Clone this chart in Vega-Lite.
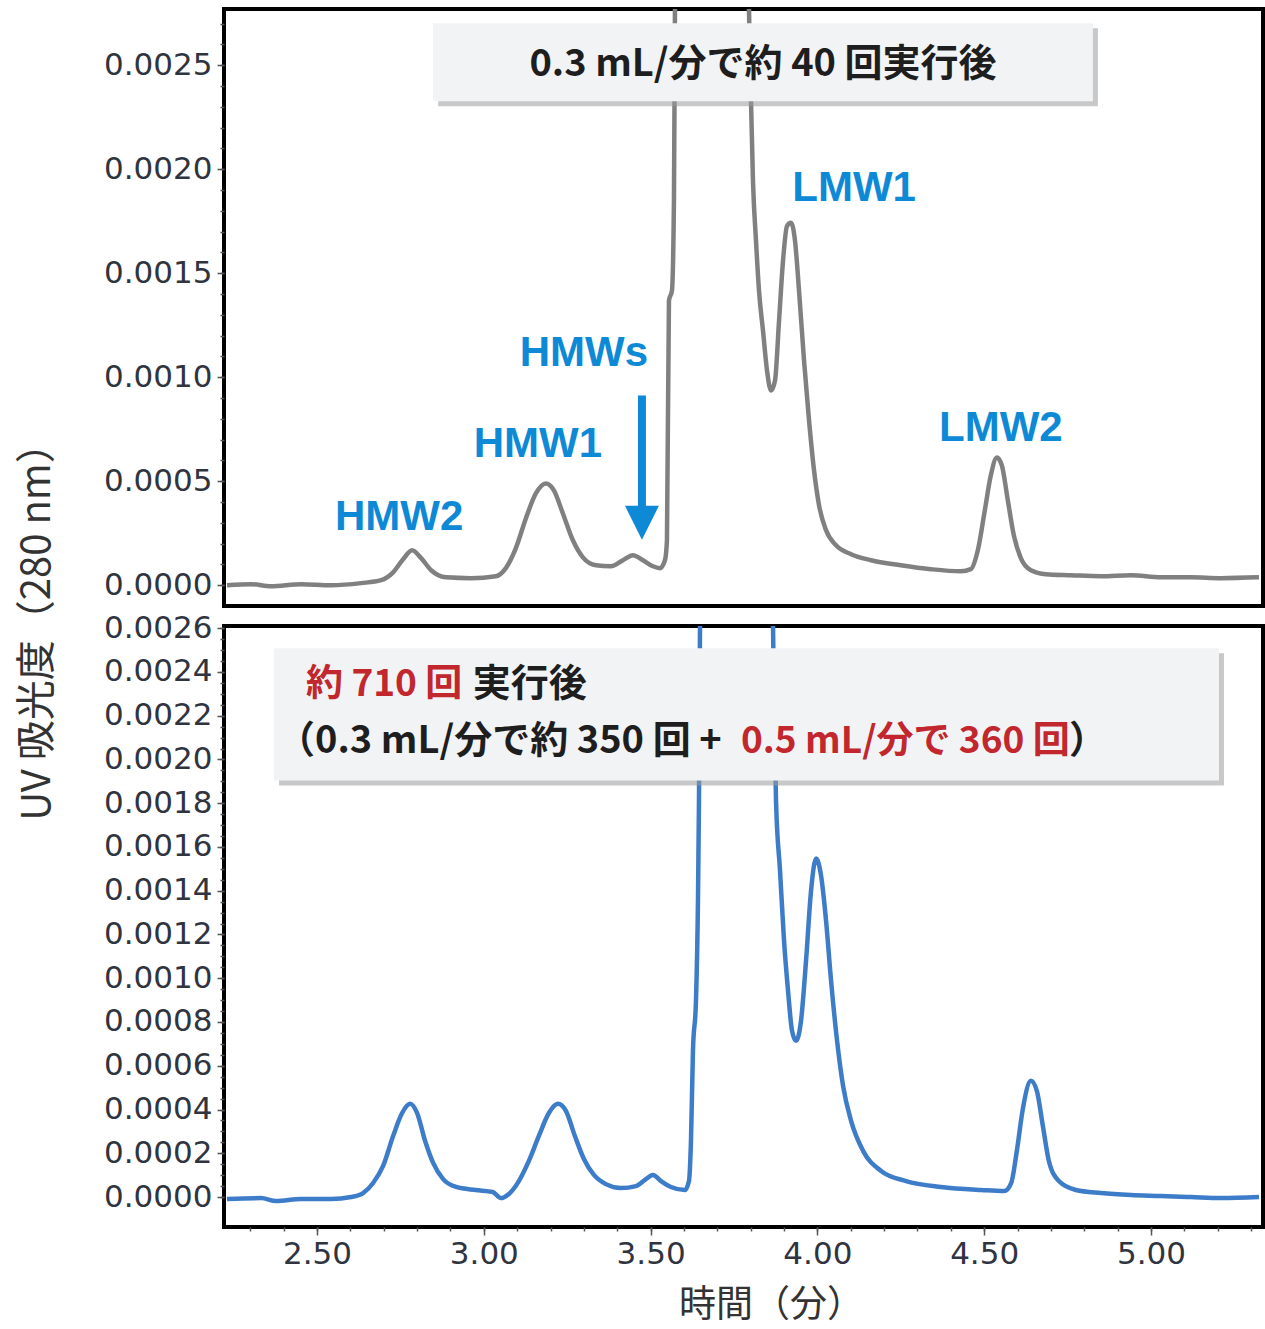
{
  "$schema": "https://vega.github.io/schema/vega-lite/v6.json",
  "padding": {"left": 17, "top": 7, "right": 2, "bottom": 2},
  "background": "#ffffff",
  "bounds": "flush",
  "spacing": 20,
  "title": {"text": "UV 吸光度（280 nm）", "orient": "left", "anchor": "middle", "font": "Noto Sans CJK JP", "fontSize": 40, "fontWeight": "normal", "color": "#333333", "offset": 44, "dx": 44},
  "config": {
    "view": {"stroke": "#000000", "strokeWidth": 4},
    "axis": {"grid": false, "domain": false, "tickColor": "#555555", "tickWidth": 1.5, "labelFont": "DejaVu Sans", "labelFontSize": 31, "labelColor": "#30343f", "labelOverlap": false, "labelFlush": false, "labelBound": false}
  },
  "datasets": {
    "top": [
      {"t": 2.230, "a": 0.0000}, {"t": 2.302, "a": 0.000005}, {"t": 2.362, "a": -0.000005}, {"t": 2.452, "a": 0.000005},
      {"t": 2.542, "a": 0.0}, {"t": 2.632, "a": 0.00001}, {"t": 2.692, "a": 0.000024}, {"t": 2.728, "a": 0.000062},
      {"t": 2.758, "a": 0.000125}, {"t": 2.785, "a": 0.000168}, {"t": 2.812, "a": 0.00013}, {"t": 2.842, "a": 0.000072},
      {"t": 2.887, "a": 0.000038}, {"t": 2.962, "a": 0.000034}, {"t": 3.036, "a": 0.000043}, {"t": 3.066, "a": 0.000082},
      {"t": 3.096, "a": 0.000178}, {"t": 3.126, "a": 0.000321}, {"t": 3.156, "a": 0.000441}, {"t": 3.186, "a": 0.000489},
      {"t": 3.210, "a": 0.000456}, {"t": 3.237, "a": 0.000345}, {"t": 3.267, "a": 0.000216}, {"t": 3.297, "a": 0.000134},
      {"t": 3.336, "a": 0.000096}, {"t": 3.381, "a": 0.000091}, {"t": 3.417, "a": 0.00012}, {"t": 3.447, "a": 0.000144},
      {"t": 3.477, "a": 0.00012}, {"t": 3.507, "a": 0.000091}, {"t": 3.528, "a": 0.000082}, {"t": 3.543, "a": 0.00012},
      {"t": 3.549, "a": 0.000216}, {"t": 3.555, "a": 0.001368}, {"t": 3.564, "a": 0.001416}, {"t": 3.570, "a": 0.00185},
      {"t": 3.573, "a": 0.00277}, {"t": 3.576, "a": 0.0038}, {"t": 3.681, "a": 0.02}, {"t": 3.789, "a": 0.0038},
      {"t": 3.795, "a": 0.00277}, {"t": 3.801, "a": 0.00233}, {"t": 3.807, "a": 0.00194}, {"t": 3.816, "a": 0.001655},
      {"t": 3.825, "a": 0.001415}, {"t": 3.837, "a": 0.001223}, {"t": 3.849, "a": 0.001032}, {"t": 3.861, "a": 0.000936},
      {"t": 3.873, "a": 0.000984}, {"t": 3.885, "a": 0.001271}, {"t": 3.897, "a": 0.00156}, {"t": 3.909, "a": 0.001727},
      {"t": 3.921, "a": 0.001742}, {"t": 3.933, "a": 0.001655}, {"t": 3.945, "a": 0.001415}, {"t": 3.960, "a": 0.00108},
      {"t": 3.975, "a": 0.000792}, {"t": 3.990, "a": 0.000552}, {"t": 4.005, "a": 0.000384}, {"t": 4.026, "a": 0.000264},
      {"t": 4.056, "a": 0.000192}, {"t": 4.101, "a": 0.000149}, {"t": 4.161, "a": 0.00012}, {"t": 4.250, "a": 0.000096},
      {"t": 4.340, "a": 0.000077}, {"t": 4.430, "a": 0.000067}, {"t": 4.460, "a": 0.000077}, {"t": 4.481, "a": 0.000168},
      {"t": 4.502, "a": 0.00036}, {"t": 4.520, "a": 0.000528}, {"t": 4.538, "a": 0.000614}, {"t": 4.553, "a": 0.000576},
      {"t": 4.571, "a": 0.000408}, {"t": 4.589, "a": 0.00024}, {"t": 4.610, "a": 0.00013}, {"t": 4.640, "a": 0.000072},
      {"t": 4.685, "a": 0.000053}, {"t": 4.760, "a": 0.000048}, {"t": 4.850, "a": 0.000043}, {"t": 4.940, "a": 0.000048},
      {"t": 5.030, "a": 0.000038}, {"t": 5.120, "a": 0.000038}, {"t": 5.210, "a": 0.000034}, {"t": 5.324, "a": 0.000038}
    ],
    "bottom": [
      {"t": 2.230, "a": -0.000009}, {"t": 2.332, "a": -0.000005}, {"t": 2.377, "a": -0.000018}, {"t": 2.452, "a": -0.000009},
      {"t": 2.542, "a": -0.000009}, {"t": 2.602, "a": 0.0}, {"t": 2.638, "a": 0.000018}, {"t": 2.668, "a": 0.000064},
      {"t": 2.698, "a": 0.000142}, {"t": 2.728, "a": 0.000279}, {"t": 2.755, "a": 0.000384}, {"t": 2.779, "a": 0.000426},
      {"t": 2.800, "a": 0.000384}, {"t": 2.824, "a": 0.000256}, {"t": 2.848, "a": 0.000156}, {"t": 2.878, "a": 0.000082},
      {"t": 2.917, "a": 0.000046}, {"t": 2.976, "a": 0.000032}, {"t": 3.027, "a": 0.000023}, {"t": 3.051, "a": -0.000005},
      {"t": 3.075, "a": 0.000014}, {"t": 3.105, "a": 0.000073}, {"t": 3.135, "a": 0.000165}, {"t": 3.165, "a": 0.000279},
      {"t": 3.195, "a": 0.000384}, {"t": 3.222, "a": 0.000426}, {"t": 3.246, "a": 0.000394}, {"t": 3.273, "a": 0.000279},
      {"t": 3.300, "a": 0.000174}, {"t": 3.330, "a": 0.000101}, {"t": 3.366, "a": 0.000059}, {"t": 3.411, "a": 0.000041},
      {"t": 3.456, "a": 0.00005}, {"t": 3.486, "a": 0.000082}, {"t": 3.507, "a": 0.000101}, {"t": 3.531, "a": 0.000073},
      {"t": 3.561, "a": 0.000046}, {"t": 3.603, "a": 0.000032}, {"t": 3.615, "a": 0.000073}, {"t": 3.621, "a": 0.000256},
      {"t": 3.627, "a": 0.000668}, {"t": 3.636, "a": 0.000897}, {"t": 3.642, "a": 0.001355}, {"t": 3.645, "a": 0.00181},
      {"t": 3.648, "a": 0.00259}, {"t": 3.651, "a": 0.003186}, {"t": 3.756, "a": 0.02}, {"t": 3.861, "a": 0.003186},
      {"t": 3.867, "a": 0.002613}, {"t": 3.870, "a": 0.00227}, {"t": 3.876, "a": 0.00181}, {"t": 3.888, "a": 0.001492},
      {"t": 3.900, "a": 0.001172}, {"t": 3.912, "a": 0.000943}, {"t": 3.924, "a": 0.00076}, {"t": 3.936, "a": 0.000714},
      {"t": 3.951, "a": 0.000806}, {"t": 3.966, "a": 0.00108}, {"t": 3.981, "a": 0.0014}, {"t": 3.996, "a": 0.001547},
      {"t": 4.011, "a": 0.001469}, {"t": 4.026, "a": 0.001263}, {"t": 4.041, "a": 0.000989}, {"t": 4.059, "a": 0.000714},
      {"t": 4.077, "a": 0.000508}, {"t": 4.101, "a": 0.000348}, {"t": 4.137, "a": 0.000211}, {"t": 4.191, "a": 0.000119},
      {"t": 4.266, "a": 0.000073}, {"t": 4.371, "a": 0.000046}, {"t": 4.491, "a": 0.000032}, {"t": 4.560, "a": 0.000027},
      {"t": 4.581, "a": 0.000064}, {"t": 4.598, "a": 0.000211}, {"t": 4.616, "a": 0.000403}, {"t": 4.640, "a": 0.000531},
      {"t": 4.658, "a": 0.000485}, {"t": 4.676, "a": 0.000325}, {"t": 4.694, "a": 0.000165}, {"t": 4.724, "a": 0.000073},
      {"t": 4.775, "a": 0.000032}, {"t": 4.850, "a": 0.000018}, {"t": 4.940, "a": 0.000009}, {"t": 5.030, "a": 0.000005},
      {"t": 5.120, "a": 0.0}, {"t": 5.210, "a": -0.000005}, {"t": 5.324, "a": 0.0}
    ],
    "topBox": [
      {"part": "shadow", "x1": 2.863, "x2": 4.841, "y1": 0.002303, "y2": 0.002678},
      {"part": "box", "x1": 2.848, "x2": 4.826, "y1": 0.002327, "y2": 0.002702}
    ],
    "bottomBox": [
      {"part": "shadow", "x1": 2.386, "x2": 5.219, "y1": 0.001881, "y2": 0.002485},
      {"part": "box", "x1": 2.371, "x2": 5.204, "y1": 0.001904, "y2": 0.002508}
    ],
    "topNote": [
      {"x": 3.837, "y": 0.0025, "text": "0.3 mL/分で約 40 回実行後"}
    ],
    "notes": [
      {"x": 2.467, "y": 0.002339, "text": "約 710 回", "tone": "red"},
      {"x": 2.967, "y": 0.002339, "text": "実行後", "tone": "black"},
      {"x": 2.380, "y": 0.002078, "text": "（0.3 mL/分で約 350 回 +", "tone": "black"},
      {"x": 3.771, "y": 0.002078, "text": "0.5 mL/分で 360 回", "tone": "red"},
      {"x": 4.754, "y": 0.002078, "text": "）", "tone": "black"}
    ],
    "peakLabels": [
      {"x": 2.746, "y": 0.000326, "text": "HMW2"},
      {"x": 3.162, "y": 0.000681, "text": "HMW1"},
      {"x": 3.300, "y": 0.001118, "text": "HMWs"},
      {"x": 4.110, "y": 0.00191, "text": "LMW1"},
      {"x": 4.550, "y": 0.000758, "text": "LMW2"}
    ],
    "arrow": [
      {"x": 3.474, "y": 0.000912, "y2": 0.00034, "tip": 0.0003}
    ]
  },
  "vconcat": [
    {
      "width": 1039,
      "height": 597,
      "resolve": {"axis": {"y": "independent"}},
      "layer": [
        {
          "data": {"name": "top"},
          "mark": {"type": "line", "color": "#808080", "strokeWidth": 4.5, "clip": true, "interpolate": "monotone"},
          "encoding": {
            "x": {"field": "t", "type": "quantitative", "scale": {"domain": [2.221, 5.336], "nice": false, "zero": false}, "axis": null},
            "y": {"field": "a", "type": "quantitative", "scale": {"domain": [-0.0001, 0.00277], "nice": false, "zero": false},
              "axis": {"title": null, "orient": "left", "labelOverlap": false, "format": ".4f",
                "values": [0, 0.0005, 0.001, 0.0015, 0.002, 0.0025],
                "tickSize": 7, "labelPadding": 5}}
          }
        },
        {
          "data": {"name": "topBox"},
          "transform": [{"filter": "datum.part === 'shadow'"}],
          "mark": {"type": "rect", "color": "#9a9a9a", "opacity": 0.55},
          "encoding": {
            "x": {"field": "x1", "type": "quantitative"}, "x2": {"field": "x2"},
            "y": {"field": "y1", "type": "quantitative",
              "axis": {"title": null, "orient": "left", "labels": false, "tickSize": 4,
                "values": [0,0.0001,0.0002,0.0003,0.0004,0.0005,0.0006,0.0007,0.0008,0.0009,0.001,0.0011,0.0012,0.0013,0.0014,0.0015,0.0016,0.0017,0.0018,0.0019,0.002,0.0021,0.0022,0.0023,0.0024,0.0025,0.0026,0.0027]}},
            "y2": {"field": "y2"}
          }
        },
        {
          "data": {"name": "topBox"},
          "transform": [{"filter": "datum.part === 'box'"}],
          "mark": {"type": "rect", "color": "#f2f3f5"},
          "encoding": {
            "x": {"field": "x1", "type": "quantitative"}, "x2": {"field": "x2"},
            "y": {"field": "y1", "type": "quantitative", "axis": null}, "y2": {"field": "y2"}
          }
        },
        {
          "data": {"name": "topNote"},
          "mark": {"type": "text", "font": "Noto Sans CJK JP", "fontSize": 38, "fontWeight": "bold", "color": "#1e1e1e", "align": "center", "baseline": "middle"},
          "encoding": {
            "x": {"field": "x", "type": "quantitative"},
            "y": {"field": "y", "type": "quantitative", "axis": null},
            "text": {"field": "text"}
          }
        },
        {
          "data": {"name": "peakLabels"},
          "mark": {"type": "text", "font": "Liberation Sans", "fontSize": 42, "fontWeight": "bold", "color": "#0d89d5", "align": "center", "baseline": "middle"},
          "encoding": {
            "x": {"field": "x", "type": "quantitative"},
            "y": {"field": "y", "type": "quantitative", "axis": null},
            "text": {"field": "text"}
          }
        },
        {
          "data": {"name": "arrow"},
          "mark": {"type": "rule", "color": "#0d89d5", "strokeWidth": 8, "strokeCap": "butt"},
          "encoding": {
            "x": {"field": "x", "type": "quantitative"},
            "y": {"field": "y", "type": "quantitative", "axis": null},
            "y2": {"field": "y2"}
          }
        },
        {
          "data": {"name": "arrow"},
          "mark": {"type": "point", "shape": "M -1 -1 L 1 -1 L 0 1 Z", "filled": true, "color": "#0d89d5", "opacity": 1, "size": 1156, "strokeWidth": 0},
          "encoding": {
            "x": {"field": "x", "type": "quantitative"},
            "y": {"field": "tip", "type": "quantitative", "axis": null}
          }
        }
      ]
    },
    {
      "width": 1039,
      "height": 601,
      "resolve": {"axis": {"x": "independent", "y": "independent"}},
      "layer": [
        {
          "data": {"name": "bottom"},
          "mark": {"type": "line", "color": "#3d7cc9", "strokeWidth": 4.5, "clip": true, "interpolate": "monotone"},
          "encoding": {
            "x": {"field": "t", "type": "quantitative", "scale": {"domain": [2.221, 5.336], "nice": false, "zero": false},
              "axis": {"title": "時間（分）", "orient": "bottom", "titleFont": "Noto Sans CJK JP", "titleFontSize": 37, "titleFontWeight": "normal", "titleColor": "#333333", "titlePadding": 18, "titleX": 547, "labelOverlap": false, "format": ".2f",
                "values": [2.5, 3.0, 3.5, 4.0, 4.5, 5.0],
                "tickSize": 8, "labelPadding": 4}},
            "y": {"field": "a", "type": "quantitative", "scale": {"domain": [-0.000137, 0.00261], "nice": false, "zero": false},
              "axis": {"title": null, "orient": "left", "labelOverlap": false, "format": ".4f",
                "values": [0,0.0002,0.0004,0.0006,0.0008,0.001,0.0012,0.0014,0.0016,0.0018,0.002,0.0022,0.0024,0.0026],
                "tickSize": 7, "labelPadding": 5}}
          }
        },
        {
          "data": {"name": "bottomBox"},
          "transform": [{"filter": "datum.part === 'shadow'"}],
          "mark": {"type": "rect", "color": "#9a9a9a", "opacity": 0.55},
          "encoding": {
            "x": {"field": "x1", "type": "quantitative",
              "axis": {"title": null, "orient": "bottom", "labels": false, "tickSize": 4,
                "values": [2.3,2.4,2.5,2.6,2.7,2.8,2.9,3.0,3.1,3.2,3.3,3.4,3.5,3.6,3.7,3.8,3.9,4.0,4.1,4.2,4.3,4.4,4.5,4.6,4.7,4.8,4.9,5.0,5.1,5.2,5.3]}},
            "x2": {"field": "x2"},
            "y": {"field": "y1", "type": "quantitative",
              "axis": {"title": null, "orient": "left", "labels": false, "tickSize": 4,
                "values": [0,0.00005,0.0001,0.00015,0.0002,0.00025,0.0003,0.00035,0.0004,0.00045,0.0005,0.00055,0.0006,0.00065,0.0007,0.00075,0.0008,0.00085,0.0009,0.00095,0.001,0.00105,0.0011,0.00115,0.0012,0.00125,0.0013,0.00135,0.0014,0.00145,0.0015,0.00155,0.0016,0.00165,0.0017,0.00175,0.0018,0.00185,0.0019,0.00195,0.002,0.00205,0.0021,0.00215,0.0022,0.00225,0.0023,0.00235,0.0024,0.00245,0.0025,0.00255,0.0026]}},
            "y2": {"field": "y2"}
          }
        },
        {
          "data": {"name": "bottomBox"},
          "transform": [{"filter": "datum.part === 'box'"}],
          "mark": {"type": "rect", "color": "#f2f3f5"},
          "encoding": {
            "x": {"field": "x1", "type": "quantitative", "axis": null}, "x2": {"field": "x2"},
            "y": {"field": "y1", "type": "quantitative", "axis": null}, "y2": {"field": "y2"}
          }
        },
        {
          "data": {"name": "notes"},
          "transform": [{"filter": "datum.tone === 'black'"}],
          "mark": {"type": "text", "font": "Noto Sans CJK JP", "fontSize": 38, "fontWeight": "bold", "color": "#1e1e1e", "align": "left", "baseline": "middle"},
          "encoding": {
            "x": {"field": "x", "type": "quantitative", "axis": null},
            "y": {"field": "y", "type": "quantitative", "axis": null},
            "text": {"field": "text"}
          }
        },
        {
          "data": {"name": "notes"},
          "transform": [{"filter": "datum.tone === 'red'"}],
          "mark": {"type": "text", "font": "Noto Sans CJK JP", "fontSize": 37, "fontWeight": "bold", "color": "#c1272d", "align": "left", "baseline": "middle"},
          "encoding": {
            "x": {"field": "x", "type": "quantitative", "axis": null},
            "y": {"field": "y", "type": "quantitative", "axis": null},
            "text": {"field": "text"}
          }
        }
      ]
    }
  ]
}
